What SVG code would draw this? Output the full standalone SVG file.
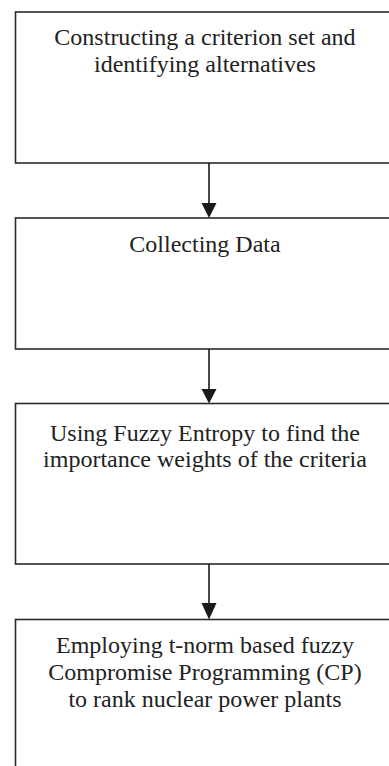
<svg xmlns="http://www.w3.org/2000/svg" width="389" height="766" viewBox="0 0 389 766">
<style>
.box{fill:#fff;stroke:#2b2b2b;stroke-width:1.6}
.t{font-family:"Liberation Serif","Times New Roman",serif;font-size:24px;fill:#222;text-anchor:middle}
.c{stroke:#1a1a1a;stroke-width:1.6;fill:none}
.h{fill:#1a1a1a}
</style>
<rect x="0" y="0" width="389" height="766" fill="#fff"/>
<g id="n1"><rect class="box" x="15.5" y="12" width="400" height="151"/>
<text class="t" x="205" y="45">Constructing a criterion set and</text>
<text class="t" x="205" y="72">identifying alternatives</text></g>
<g id="n2"><rect class="box" x="15.5" y="218" width="400" height="131"/>
<text class="t" x="205" y="252">Collecting Data</text></g>
<g id="n3"><rect class="box" x="15.5" y="403.5" width="400" height="160.5"/>
<text class="t" x="205" y="441">Using Fuzzy Entropy to find the</text>
<text class="t" x="205" y="467">importance weights of the criteria</text></g>
<g id="n4"><rect class="box" x="15.5" y="619.5" width="400" height="200"/>
<text class="t" x="205" y="653">Employing t-norm based fuzzy</text>
<text class="t" x="205" y="680">Compromise Programming (CP)</text>
<text class="t" x="205" y="707">to rank nuclear power plants</text></g>
<g id="connectors">
<line class="c" x1="209" y1="163" x2="209" y2="205"/><polygon class="h" points="201.5,203 216.5,203 209,218"/>
<line class="c" x1="209" y1="349" x2="209" y2="391"/><polygon class="h" points="201.5,389 216.5,389 209,403.5"/>
<line class="c" x1="209" y1="564" x2="209" y2="605"/><polygon class="h" points="201.5,603 216.5,603 209,619.5"/>
</g>
</svg>
